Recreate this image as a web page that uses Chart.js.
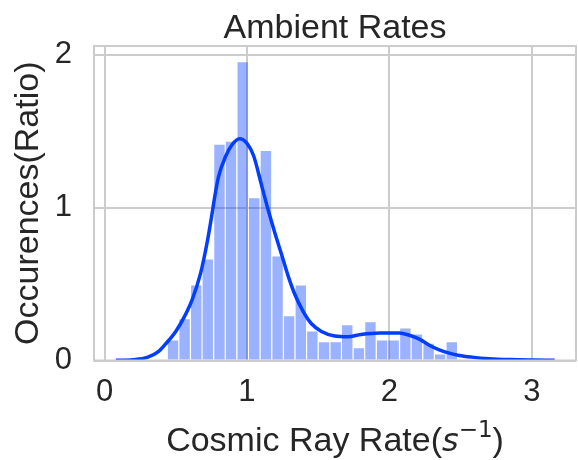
<!DOCTYPE html>
<html>
<head>
<meta charset="utf-8">
<script src="https://cdn.jsdelivr.net/npm/chart.js@4.4.1/dist/chart.umd.min.js"></script>
<style>
  html, body { margin: 0; padding: 0; background: #ffffff; }
  #wrap { width: 578px; height: 460px; position: relative; }
</style>
</head>
<body>
<div id="wrap"><canvas id="c" width="578" height="460"></canvas></div>
<script>
// ---------------- data ----------------
const titleText = 'Ambient Rates';
const yAxisLabel = 'Occurences(Ratio)';
const xAxisLabelText = 'Cosmic Ray Rate(';
const xAxisLabelMath = 's';
const xAxisLabelSup = '\u22121';
const xAxisLabelEnd = ')';

const xTickValues = [0, 1, 2, 3];
const yTickValues = [0, 1, 2];

// histogram bin centers and heights (density)
const binCenters = [0.481, 0.562, 0.644, 0.725, 0.807, 0.888, 0.970, 1.051, 1.133, 1.215,
                    1.296, 1.378, 1.459, 1.541, 1.623, 1.704, 1.786, 1.867, 1.949, 2.030,
                    2.112, 2.193, 2.275, 2.356, 2.438];
const binHeights = [0.13, 0.27, 0.49, 0.66, 1.41, 1.43, 1.95, 1.06, 1.37, 0.68,
                    0.29, 0.49, 0.19, 0.12, 0.12, 0.23, 0.08, 0.25, 0.13, 0.13,
                    0.21, 0.17, 0.11, 0.04, 0.12];

// kernel density estimate curve
const kdeX = [0.08, 0.20, 0.30, 0.38, 0.43, 0.50, 0.557, 0.616, 0.674, 0.72,
              0.755, 0.77, 0.80, 0.848, 0.895, 0.948, 1.00, 1.046, 1.104, 1.15,
              1.197, 1.244, 1.29, 1.337, 1.395, 1.453, 1.523, 1.616, 1.709, 1.80,
              1.93, 2.07, 2.14, 2.21, 2.28, 2.35, 2.42, 2.49, 2.58, 2.70,
              2.85, 3.00, 3.16];
const kdeY = [0.001, 0.005, 0.02, 0.06, 0.11, 0.19, 0.28, 0.40, 0.57, 0.77,
              0.96, 1.05, 1.20, 1.33, 1.41, 1.45, 1.42, 1.34, 1.14, 0.98,
              0.83, 0.69, 0.55, 0.43, 0.32, 0.24, 0.19, 0.16, 0.155, 0.17,
              0.18, 0.18, 0.165, 0.14, 0.10, 0.07, 0.048, 0.033, 0.022, 0.012,
              0.006, 0.003, 0.001];

const xRange = [-0.074, 3.31];
const yRange = [0, 2.056];

// ---------------- styling ----------------
const FONT = "'Liberation Sans', Arial, sans-serif";
const MATHFONT = "'DejaVu Sans', sans-serif";
const TEXT = '#262626';
const GRID = '#cccccc';

const framePlugin = {
  id: 'frame',
  afterDatasetsDraw(chart) {
    const a = chart.chartArea, ctx = chart.ctx;
    ctx.save();
    ctx.strokeStyle = GRID;
    ctx.lineWidth = 2;
    ctx.strokeRect(a.left, a.top, a.right - a.left, a.bottom - a.top);
    ctx.restore();
  }
};

const titlePlugin = {
  id: 'centeredTitle',
  afterDraw(chart) {
    const ctx = chart.ctx, a = chart.chartArea;
    ctx.save();
    ctx.font = `normal 34px ${FONT}`;
    ctx.fillStyle = TEXT;
    ctx.textAlign = 'center';
    ctx.textBaseline = 'middle';
    ctx.fillText(titleText, (a.left + a.right) / 2, a.top - 17);
    ctx.restore();
  }
};

const xTitlePlugin = {
  id: 'xTitle',
  afterDraw(chart) {
    const ctx = chart.ctx, a = chart.chartArea;
    const parts = [
      { t: xAxisLabelText, f: `normal 34px ${FONT}`, dy: 0 },
      { t: xAxisLabelMath, f: `italic 32px ${MATHFONT}`, dy: 0 },
      { t: xAxisLabelSup, f: `normal 23px ${MATHFONT}`, dy: -14 },
      { t: xAxisLabelEnd, f: `normal 34px ${FONT}`, dy: 0 }
    ];
    ctx.save();
    let total = 0;
    parts.forEach(p => { ctx.font = p.f; p.w = ctx.measureText(p.t).width; total += p.w; });
    let x = (a.left + a.right) / 2 - total / 2;
    const baseY = chart.height - 9;
    ctx.fillStyle = TEXT;
    ctx.textBaseline = 'alphabetic';
    ctx.textAlign = 'left';
    parts.forEach(p => { ctx.font = p.f; ctx.fillText(p.t, x, baseY + p.dy); x += p.w; });
    ctx.restore();
  }
};

const ctx = document.getElementById('c').getContext('2d');
new Chart(ctx, {
  type: 'bar',
  data: {
    datasets: [
      {
        type: 'bar',
        data: binCenters.map((x, i) => ({ x: x, y: binHeights[i] })),
        backgroundColor: 'rgba(2, 62, 255, 0.4)',
        borderWidth: 0,
        barPercentage: 0.9,
        categoryPercentage: 1.0,
        order: 2
      },
      {
        type: 'line',
        data: kdeX.map((x, i) => ({ x: x, y: kdeY[i] })),
        borderColor: '#023eff',
        borderWidth: 3.5,
        pointRadius: 0,
        fill: false,
        cubicInterpolationMode: 'monotone',
        order: 1
      }
    ]
  },
  options: {
    responsive: false,
    animation: false,
    events: [],
    layout: { padding: { left: 0, right: 2, top: 46, bottom: 0 } },
    plugins: {
      legend: { display: false },
      tooltip: { enabled: false },
      title: { display: false }
    },
    scales: {
      x: {
        type: 'linear',
        min: xRange[0],
        max: xRange[1],
        offset: false,
        grid: { color: GRID, lineWidth: 2, drawTicks: false, offset: false },
        border: { display: false },
        ticks: { color: TEXT, font: { family: FONT, size: 31 }, padding: 13, maxRotation: 0 },
        afterBuildTicks: s => { s.ticks = xTickValues.map(v => ({ value: v })); },
        afterFit: s => { s.height = 99.5; }
      },
      y: {
        type: 'linear',
        min: yRange[0],
        max: yRange[1],
        grid: { color: GRID, lineWidth: 2, drawTicks: false },
        border: { display: false },
        ticks: { color: TEXT, font: { family: FONT, size: 31 }, padding: 22 },
        title: {
          display: true,
          text: yAxisLabel,
          color: TEXT,
          font: { family: FONT, size: 34, lineHeight: 1 },
          padding: { top: 12, bottom: 0 }
        },
        afterBuildTicks: s => { s.ticks = yTickValues.map(v => ({ value: v })); },
        afterFit: s => { s.width = 94; }
      }
    }
  },
  plugins: [framePlugin, titlePlugin, xTitlePlugin]
});
</script>
</body>
</html>
